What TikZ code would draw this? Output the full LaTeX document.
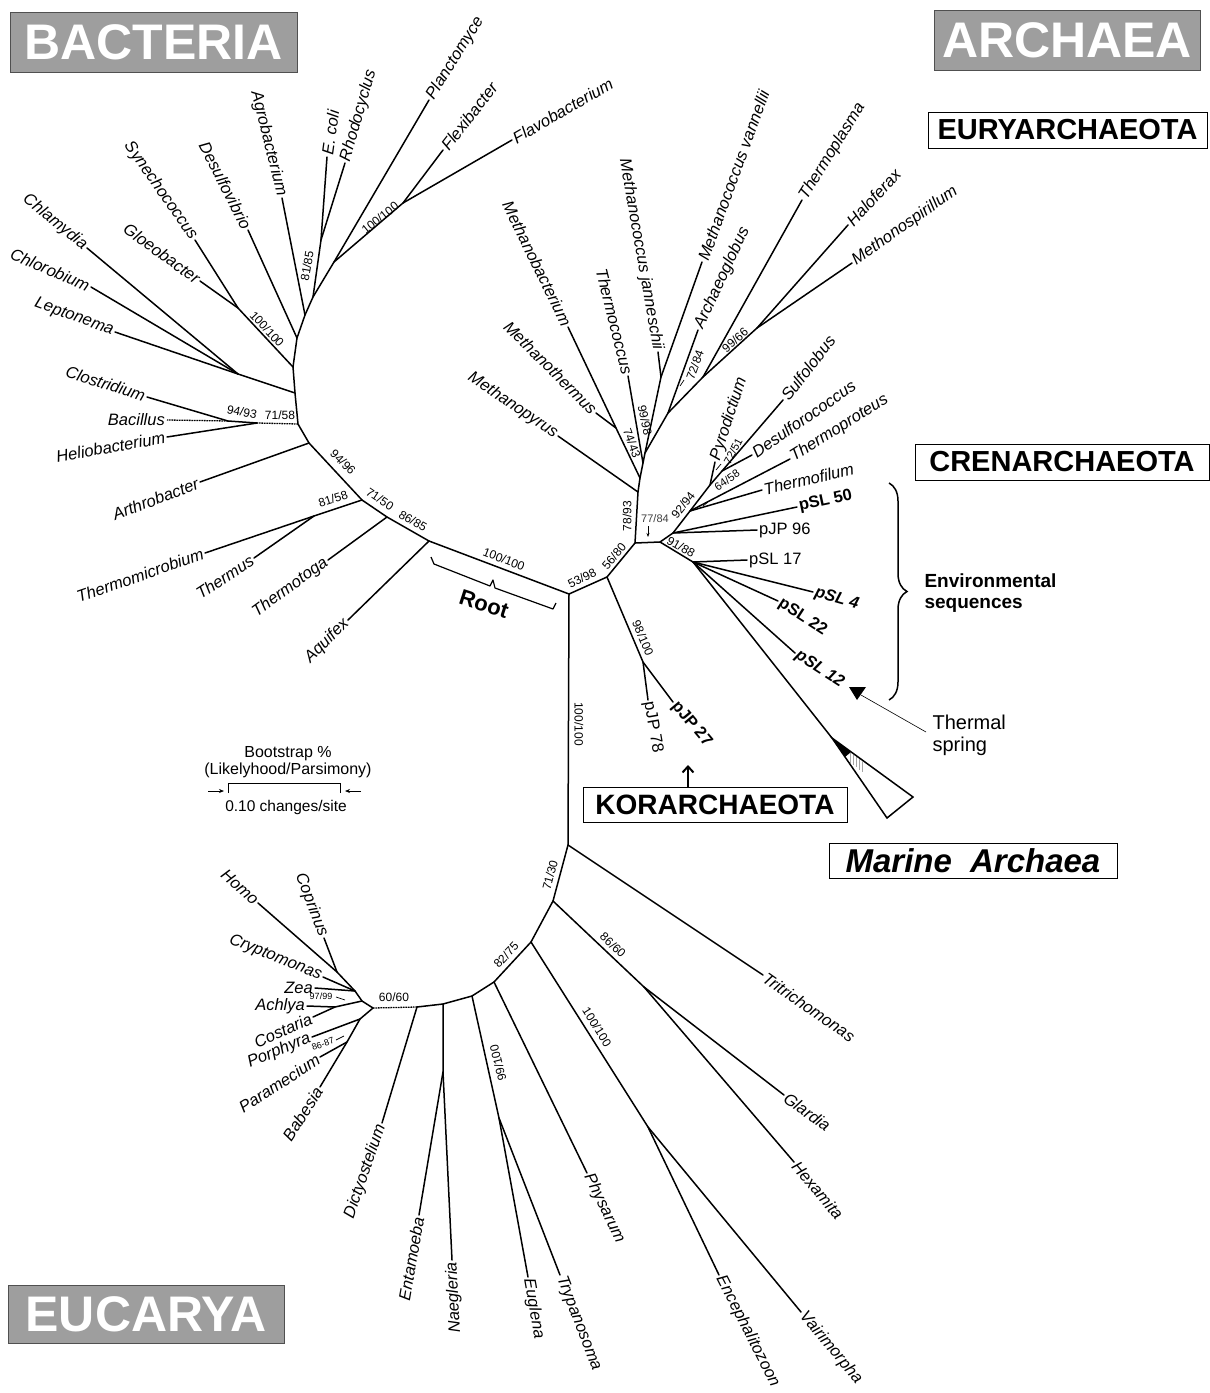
\documentclass[tikz,border=0pt]{standalone}
\usepackage{fontspec}
\setmainfont{Liberation Sans}
\usetikzlibrary{arrows.meta,decorations.pathreplacing}
\definecolor{domgray}{RGB}{158,158,158}
\definecolor{domedge}{RGB}{80,80,80}
\begin{document}
\begin{tikzpicture}[x=1pt,y=-1pt,
  br/.style={line width=1.5pt,line cap=round,line join=round},
  hatchline/.style={line width=1.3pt,dash pattern=on 1.6pt off 0.9pt},
  tk/.style={line width=0.7pt},
  lf/.style={font=\fontsize{16.5}{18}\selectfont\itshape,inner sep=2pt},
  lr/.style={font=\fontsize{16.5}{18}\selectfont,inner sep=2pt},
  lb/.style={font=\fontsize{16.5}{18}\selectfont\bfseries,inner sep=2pt},
  lbi/.style={font=\fontsize{16.5}{18}\selectfont\bfseries\itshape,inner sep=2pt},
  bs/.style={font=\fontsize{12}{13}\selectfont,inner sep=0pt},
  bt/.style={font=\fontsize{9}{10}\selectfont,inner sep=0pt},
  dom/.style={draw=domedge,line width=1pt,fill=domgray,text=white,font=\fontsize{50}{55}\selectfont\bfseries,inner sep=0pt},
  grp/.style={draw=black,line width=1pt,fill=white,font=\fontsize{29}{32}\selectfont\bfseries,inner sep=0pt},
]
\useasboundingbox (0,0) rectangle (1210,1393);

% ---------------- coordinates: bacteria
\coordinate (R0) at (569,594);
\coordinate (B86) at (429,541);
\coordinate (B71) at (387,517);
\coordinate (B81) at (362,500);
\coordinate (T1) at (309,443);
\coordinate (T2) at (298,424);
\coordinate (T3) at (295,393);
\coordinate (T4) at (293,367);
\coordinate (T5) at (297,338);
\coordinate (T6) at (305,315);
\coordinate (T7) at (313,297);
\coordinate (ER) at (321,240);
\coordinate (P1) at (334,262);
\coordinate (FF) at (403,203);
\coordinate (G1) at (238,308);
\coordinate (J1) at (238,374);
\coordinate (CL1) at (257,423);
\coordinate (CL2) at (228,421);
\coordinate (NTM) at (314,516);
\coordinate (tPla) at (429,100);
\coordinate (tFle) at (443,150);
\coordinate (tFla) at (512,140);
\coordinate (tRho) at (345,163);
\coordinate (tEco) at (327,157);
\coordinate (tAgr) at (282,198);
\coordinate (tDes) at (248,230);
\coordinate (tSyn) at (195,240);
\coordinate (tGlo) at (200,281);
\coordinate (tChla) at (87,248);
\coordinate (tChlo) at (91,287);
\coordinate (tLep) at (115,332);
\coordinate (tClo) at (147,397);
\coordinate (tBac) at (167,420);
\coordinate (tHel) at (167,437);
\coordinate (tArt) at (200,482);
\coordinate (tTmi) at (205,553);
\coordinate (tThe) at (254,558);
\coordinate (tTto) at (328,560);
\coordinate (tAqu) at (348,620);

% ---------------- coordinates: archaea
\coordinate (NA) at (635,543);
\coordinate (NB) at (660,542);
\coordinate (K1) at (607,577);
\coordinate (KK) at (643,662);
\coordinate (E1) at (638,492);
\coordinate (E2) at (640,478);
\coordinate (E3) at (643,463);
\coordinate (E4) at (645,453);
\coordinate (MM) at (616,428);
\coordinate (MJ) at (661,377);
\coordinate (AR) at (668,413);
\coordinate (TP) at (703,377);
\coordinate (HH) at (757,328);
\coordinate (NC) at (673,533);
\coordinate (NT) at (690,511);
\coordinate (NF) at (710,485);
\coordinate (ND) at (722,471);
\coordinate (NE) at (693,562);
\coordinate (tMpy) at (558,436);
\coordinate (tMth) at (596,413);
\coordinate (tMba) at (568,327);
\coordinate (tTco) at (628,376);
\coordinate (tMja) at (658,352);
\coordinate (tMva) at (702,262);
\coordinate (tArc) at (698,330);
\coordinate (tTpl) at (802,200);
\coordinate (tHal) at (848,225);
\coordinate (tMsp) at (852,263);
\coordinate (tPyr) at (715,462);
\coordinate (tSul) at (783,400);
\coordinate (tDsc) at (752,455);
\coordinate (tTpr) at (790,459);
\coordinate (tTfi) at (762,490);
\coordinate (tS50) at (797,507);
\coordinate (tJ96) at (757,530);
\coordinate (tS17) at (747,560);
\coordinate (tS4) at (813,592);
\coordinate (tS22) at (778,601);
\coordinate (tS12) at (795,653);
\coordinate (MA) at (832,738);
\coordinate (MB) at (913,797);
\coordinate (MC) at (887,818);
\coordinate (tJ78) at (648,700);
\coordinate (tJ27) at (673,702);

% ---------------- coordinates: eucarya
\coordinate (EU0) at (568,845);
\coordinate (EU1) at (553,901);
\coordinate (EU2) at (531,942);
\coordinate (EU3) at (494,982);
\coordinate (EU4) at (472,996);
\coordinate (EU5) at (443,1004);
\coordinate (EU6) at (417,1007);
\coordinate (EU7) at (373,1008);
\coordinate (GH) at (644,987);
\coordinate (EV) at (648,1127);
\coordinate (EE) at (499,1118);
\coordinate (EN) at (443,1072);
\coordinate (Z2) at (362,1001);
\coordinate (Z1) at (355,991);
\coordinate (HC) at (337,972);
\coordinate (AC) at (335,1007);
\coordinate (BP) at (360,1019);
\coordinate (PB) at (347,1042);
\coordinate (tTri) at (763,975);
\coordinate (tGla) at (784,1095);
\coordinate (tHex) at (794,1162);
\coordinate (tEnc) at (719,1275);
\coordinate (tVai) at (801,1312);
\coordinate (tPhy) at (587,1173);
\coordinate (tEug) at (528,1277);
\coordinate (tTry) at (560,1275);
\coordinate (tEnt) at (419,1215);
\coordinate (tNae) at (452,1260);
\coordinate (tDic) at (382,1123);
\coordinate (tHom) at (258,903);
\coordinate (tCop) at (324,938);
\coordinate (tCry) at (323,977);
\coordinate (tZea) at (315,988);
\coordinate (tAch) at (307,1006);
\coordinate (tCos) at (313,1017);
\coordinate (tPor) at (312,1037);
\coordinate (tPar) at (320,1057);
\coordinate (tBab) at (320,1087);

% ================= BACTERIA branches
\draw[br] (R0) -- (B86) -- (B71) -- (B81) -- (T1) -- (T2) -- (T3) -- (T4) -- (T5) -- (T6) -- (T7) -- (P1) -- (tPla);
\draw[br] (T7) -- (ER) -- (tEco);
\draw[br] (ER) -- (tRho);
\draw[br] (P1) -- (FF) -- (tFle);
\draw[br] (FF) -- (tFla);
\draw[br] (T6) -- (tAgr);
\draw[br] (T5) -- (tDes);
\draw[br] (T4) -- (G1) -- (tSyn);
\draw[br] (G1) -- (tGlo);
\draw[br] (T3) -- (J1) -- (tLep);
\draw[br] (J1) -- (tChla);
\draw[br] (J1) -- (tChlo);
\draw[hatchline] (T2) -- (CL1);
\draw[br] (CL1) -- (CL2);
\draw[hatchline] (CL2) -- (tBac);
\draw[br] (CL2) -- (tClo);
\draw[br] (CL1) -- (tHel);
\draw[br] (T1) -- (tArt);
\draw[br] (B81) -- (NTM) -- (tTmi);
\draw[br] (NTM) -- (tThe);
\draw[br] (B71) -- (tTto);
\draw[br] (B86) -- (tAqu);

\node[lf,anchor=west,rotate=58] (lPla) at (tPla) {Planctomyce};
\node[lf,anchor=west,rotate=52] (lFle) at (tFle) {Flexibacter};
\node[lf,anchor=west,rotate=30] (lFla) at (tFla) {Flavobacterium};
\node[lf,anchor=west,rotate=74] (lRho) at (tRho) {Rhodocyclus};
\node[lf,anchor=west,rotate=82] (lEco) at (tEco) {E. coli};
\node[lf,anchor=east,rotate=-76] (lAgr) at (tAgr) {Agrobacterium};
\node[lf,anchor=east,rotate=-63] (lDes) at (tDes) {Desulfovibrio};
\node[lf,anchor=east,rotate=-55] (lSyn) at (tSyn) {Synechococcus};
\node[lf,anchor=east,rotate=-36] (lGlo) at (tGlo) {Gloeobacter};
\node[lf,anchor=east,rotate=-39] (lChla) at (tChla) {Chlamydia};
\node[lf,anchor=east,rotate=-23] (lChlo) at (tChlo) {Chlorobium};
\node[lf,anchor=east,rotate=-20] (lLep) at (tLep) {Leptonema};
\node[lf,anchor=east,rotate=-18] (lClo) at (tClo) {Clostridium};
\node[lf,anchor=east] (lBac) at (tBac) {Bacillus};
\node[lf,anchor=east,rotate=10] (lHel) at (tHel) {Heliobacterium};
\node[lf,anchor=east,rotate=21] (lArt) at (tArt) {Arthrobacter};
\node[lf,anchor=east,rotate=19] (lTmi) at (tTmi) {Thermomicrobium};
\node[lf,anchor=east,rotate=33] (lThe) at (tThe) {Thermus};
\node[lf,anchor=east,rotate=36] (lTto) at (tTto) {Thermotoga};
\node[lf,anchor=east,rotate=45] (lAqu) at (tAqu) {Aquifex};

\node[bs,rotate=-21] (bs1) at (504,559) {100/100};
\node[bs,rotate=-30] (bs2) at (413,521) {86/85};
\node[bs,rotate=-34] (bs3) at (380,499) {71/50};
\node[bs,rotate=-45] (bs4) at (343,462) {94/96};
\node[bs,rotate=18] (bs5) at (333,499) {81/58};
\node[bs,rotate=-12] (bs6) at (242,412) {94/93};
\node[bs] (bs7) at (280,415) {71/58};
\node[bs,rotate=-47] (bs8) at (267,329) {100/100};
\node[bs,rotate=80] (bs9) at (307,266) {81/85};
\node[bs,rotate=39] (bs10) at (380,218) {100/100};

% Root bracket
\draw[line width=1.2pt,line join=round] (431,557) -- (434,564) -- (490,586) -- (493,580) -- (495,588) -- (553,609) -- (556,603);
\node[font=\fontsize{22}{24}\selectfont\bfseries,rotate=-18] (root) at (484,604) {Root};

% ================= ARCHAEA branches
\draw[br] (R0) -- (K1) -- (NA) -- (E1) -- (E2) -- (E3) -- (E4) -- (AR) -- (TP) -- (HH) -- (tHal);
\draw[br] (HH) -- (tMsp);
\draw[br] (TP) -- (tTpl);
\draw[br] (AR) -- (tArc);
\draw[br] (E4) -- (MJ) -- (tMva);
\draw[br] (MJ) -- (tMja);
\draw[br] (E3) -- (tTco);
\draw[br] (E2) -- (MM) -- (tMba);
\draw[br] (MM) -- (tMth);
\draw[br] (E1) -- (tMpy);
\draw[br] (NA) -- (NB) -- (NC) -- (NT) -- (NF) -- (tSul);
\draw[br] (NF) -- (tPyr);
\draw[br] (ND) -- (tDsc);
\draw[br] (NT) -- (tTpr);
\draw[br] (NT) -- (tTfi);
\draw[br] (NC) -- (tS50);
\draw[br] (NC) -- (tJ96);
\draw[br] (NB) -- (NE) -- (tS17);
\draw[br] (NE) -- (tS4);
\draw[br] (NE) -- (tS22);
\draw[br] (NE) -- (tS12);
\draw[br] (NE) -- (MA);
\draw[br] (K1) -- (KK) -- (tJ78);
\draw[br] (KK) -- (tJ27);

% marine archaea wedge
\draw[line width=1.5pt,line join=miter] (MA) -- (MB) -- (MC) -- cycle;
\fill (MA) -- (851,752) -- (845,757) -- cycle;
\foreach \xx in {850,853,856,859,862}
  \draw[gray!70,line width=0.5pt] (\xx,{738+(\xx-832)*0.728+1.5}) -- (\xx,{738+(\xx-832)*0.728+12});

\node[lf,anchor=east,rotate=-34] (lMpy) at (tMpy) {Methanopyrus};
\node[lf,anchor=east,rotate=-45] (lMth) at (tMth) {Methanothermus};
\node[lf,anchor=east,rotate=-64] (lMba) at (tMba) {Methanobacterium};
\node[lf,anchor=east,rotate=-76] (lTco) at (tTco) {Thermococcus};
\node[lf,anchor=east,rotate=-80] (lMja) at (tMja) {Methanococcus janneschii};
\node[lf,anchor=west,rotate=70] (lMva) at (tMva) {Methanococcus vannellii};
\node[lf,anchor=west,rotate=65] (lArc) at (tArc) {Archaeoglobus};
\node[lf,anchor=west,rotate=58] (lTpl) at (tTpl) {Thermoplasma};
\node[lf,anchor=west,rotate=47] (lHal) at (tHal) {Haloferax};
\node[lf,anchor=west,rotate=35] (lMsp) at (tMsp) {Methonospirillum};
\node[lf,anchor=west,rotate=72] (lPyr) at (tPyr) {Pyrodictium};
\node[lf,anchor=west,rotate=52] (lSul) at (tSul) {Sulfolobus};
\node[lf,anchor=west,rotate=35] (lDsc) at (tDsc) {Desulforococcus};
\node[lf,anchor=west,rotate=32] (lTpr) at (tTpr) {Thermoproteus};
\node[lf,anchor=west,rotate=13] (lTfi) at (tTfi) {Thermofilum};
\node[lb,anchor=west,rotate=12] (lS50) at (tS50) {pSL 50};
\node[lr,anchor=west] (lJ96) at (tJ96) {pJP 96};
\node[lr,anchor=west] (lS17) at (tS17) {pSL 17};
\node[lbi,anchor=west,rotate=-16] (lS4) at (tS4) {pSL 4};
\node[lb,anchor=west,rotate=-33] (lS22) at (tS22) {pSL 22};
\node[lbi,anchor=west,rotate=-33] (lS12) at (tS12) {pSL 12};
\node[lr,anchor=west,rotate=-80] (lJ78) at (tJ78) {pJP 78};
\node[lb,anchor=west,rotate=-50] (lJ27) at (tJ27) {pJP 27};

\node[bs,rotate=27] (bs11) at (582,578) {53/98};
\node[bs,rotate=50] (bs12) at (614,556) {56/80};
\node[bs,rotate=-67] (bs13) at (643,638) {98/100};
\node[bs,rotate=-90] (bs14) at (579,724) {100/100};
\node[bs,rotate=90] (bs15) at (627,516) {78/93};
\node[bs,font=\fontsize{11}{12}\selectfont,text=black!75] (bs16) at (655,519) {77/84};
\coordinate (ar1) at (648,526); \coordinate (ar2) at (648,537);
\draw[tk,-{Stealth[length=4pt,width=3pt]}] (ar1) -- (ar2);
\node[bs,rotate=-70] (bs17) at (632,443) {74/43};
\node[bs,rotate=-78] (bs18) at (645,420) {99/98};
\node[bs,rotate=70] (bs19) at (695,365) {72/84};
\draw[tk] (680,386) -- (684,380);
\node[bs,rotate=42] (bs20) at (735,340) {99/66};
\node[bs,rotate=52] (bs21) at (683,505) {92/94};
\node[bs,font=\fontsize{11}{12}\selectfont,rotate=62] (bs22) at (733,451) {72/51};
\draw[tk] (716,470) -- (721,464);
\node[bs,font=\fontsize{11}{12}\selectfont,rotate=35] (bs23) at (727,480) {64/58};
\draw[tk] (703,506) -- (708,502);
\node[bs,rotate=-30] (bs24) at (681,547) {91/88};

% environmental sequences brace
\draw[line width=1.5pt,decorate,decoration={brace,amplitude=18pt}] (889,483) -- (889,700);
\node[font=\fontsize{19}{21}\selectfont\bfseries,anchor=west,align=left] (env) at (921,593) {Environmental\\sequences};

% thermal spring pointer
\node[font=\fontsize{20}{22}\selectfont,anchor=west,align=left] (ts) at (929,735) {Thermal\\spring};
\coordinate (tsA) at (926,732);
\coordinate (tri) at (861,695);
\draw[line width=0.6pt] (tsA) -- (tri);
\fill (849,687) -- (866,687) -- (857,700) -- cycle;

% ================= EUCARYA branches
\draw[br] (R0) -- (EU0) -- (EU1) -- (EU2) -- (EU3) -- (EU4) -- (EU5) -- (EU6);
\draw[hatchline] (EU6) -- (EU7);
\draw[br] (EU0) -- (tTri);
\draw[br] (EU1) -- (GH) -- (tGla);
\draw[br] (GH) -- (tHex);
\draw[br] (EU2) -- (EV) -- (tEnc);
\draw[br] (EV) -- (tVai);
\draw[br] (EU3) -- (tPhy);
\draw[br] (EU4) -- (EE) -- (tEug);
\draw[br] (EE) -- (tTry);
\draw[br] (EU5) -- (EN) -- (tEnt);
\draw[br] (EN) -- (tNae);
\draw[br] (EU6) -- (tDic);
\draw[br] (EU7) -- (Z2) -- (Z1) -- (HC) -- (tHom);
\draw[br] (HC) -- (tCop);
\draw[br] (Z1) -- (tCry);
\draw[br] (Z1) -- (tZea);
\draw[br] (Z2) -- (AC) -- (tAch);
\draw[br] (AC) -- (tCos);
\draw[br] (EU7) -- (BP) -- (tPor);
\draw[br] (BP) -- (PB) -- (tBab);
\draw[br] (PB) -- (tPar);

\node[lf,anchor=west,rotate=-35] (lTri) at (tTri) {Tritrichomonas};
\node[lf,anchor=west,rotate=-36] (lGla) at (tGla) {Glardia};
\node[lf,anchor=west,rotate=-50] (lHex) at (tHex) {Hexamita};
\node[lf,anchor=west,rotate=-63] (lEnc) at (tEnc) {Encephalitozoon};
\node[lf,anchor=west,rotate=-50] (lVai) at (tVai) {Vairimorpha};
\node[lf,anchor=west,rotate=-64] (lPhy) at (tPhy) {Physarum};
\node[lf,anchor=west,rotate=-80] (lEug) at (tEug) {Euglena};
\node[lf,anchor=west,rotate=-69] (lTry) at (tTry) {Trypanosoma};
\node[lf,anchor=east,rotate=80] (lEnt) at (tEnt) {Entamoeba};
\node[lf,anchor=east,rotate=93] (lNae) at (tNae) {Naegleria};
\node[lf,anchor=east,rotate=71] (lDic) at (tDic) {Dictyostelium};
\node[lf,anchor=east,rotate=-42] (lHom) at (tHom) {Homo};
\node[lf,anchor=east,rotate=-69] (lCop) at (tCop) {Coprinus};
\node[lf,anchor=east,rotate=-22] (lCry) at (tCry) {Cryptomonas};
\node[lf,anchor=east] (lZea) at (tZea) {Zea};
\node[lf,anchor=east] (lAch) at (tAch) {Achlya};
\node[lf,anchor=east,rotate=24] (lCos) at (tCos) {Costaria};
\node[lf,anchor=east,rotate=23] (lPor) at (tPor) {Porphyra};
\node[lf,anchor=east,rotate=33] (lPar) at (tPar) {Paramecium};
\node[lf,anchor=east,rotate=57] (lBab) at (tBab) {Babesia};

\node[bs,rotate=75] (bs25) at (550,875) {71/30};
\node[bs,rotate=-43] (bs26) at (613,945) {86/60};
\node[bs,rotate=-58] (bs27) at (597,1027) {100/100};
\node[bs,rotate=47] (bs28) at (506,955) {82/75};
\node[bs,rotate=104] (bs29) at (498,1063) {99/100};
\node[bs] (bs30) at (394,997) {60/60};
\node[bt] (bs31) at (321,996) {97/99};
\draw[tk] (336,997) -- (345,1000);
\node[bt,rotate=20] (bs32) at (323,1044) {86-87};
\draw[tk] (336,1040) -- (344,1036);

% scale bar / legend
\node[font=\fontsize{16}{17}\selectfont,align=center] (leg) at (288,762) {Bootstrap \%\\(Likelyhood/Parsimony)};
\coordinate (sbL) at (228,783);
\coordinate (sbR) at (340,783);
\draw[line width=0.8pt] (228,793) -- (sbL) -- (sbR) -- (340,793);
\coordinate (aL1) at (208,791); \coordinate (aL2) at (224,791);
\coordinate (aR1) at (361,791); \coordinate (aR2) at (345,791);
\draw[line width=0.8pt,-{Stealth[length=5pt,width=4pt]}] (aL1) -- (aL2);
\draw[line width=0.8pt,-{Stealth[length=5pt,width=4pt]}] (aR1) -- (aR2);
\node[font=\fontsize{15.5}{17}\selectfont] (sbT) at (286,807) {0.10 changes/site};

% ================= boxes
\node[dom,minimum width=287pt,minimum height=60pt] (bac) at (153.5,42) {BACTERIA};
\node[dom,minimum width=266pt,minimum height=60pt] (arc) at (1067,40) {ARCHAEA};
\node[dom,minimum width=276pt,minimum height=58pt] (euc) at (146,1314) {EUCARYA};
\node[grp,minimum width=279pt,minimum height=36pt] (eury) at (1067.5,130) {EURYARCHAEOTA};
\node[grp,minimum width=294pt,minimum height=36pt] (cren) at (1062,462) {CRENARCHAEOTA};
\node[grp,minimum width=264pt,minimum height=35pt,font=\fontsize{28}{30}\selectfont\bfseries] (kor) at (715,804.5) {KORARCHAEOTA};
\node[grp,minimum width=288pt,minimum height=35pt,font=\fontsize{33}{36}\selectfont\bfseries\itshape] (mar) at (973,860.5) {Marine\hspace{9pt} Archaea};
\coordinate (korT) at (688,765);
\draw[line width=2pt,-{Straight Barb[length=6pt,width=11pt]}] (kor.north -| korT) -- (korT);
\end{tikzpicture}
\end{document}
